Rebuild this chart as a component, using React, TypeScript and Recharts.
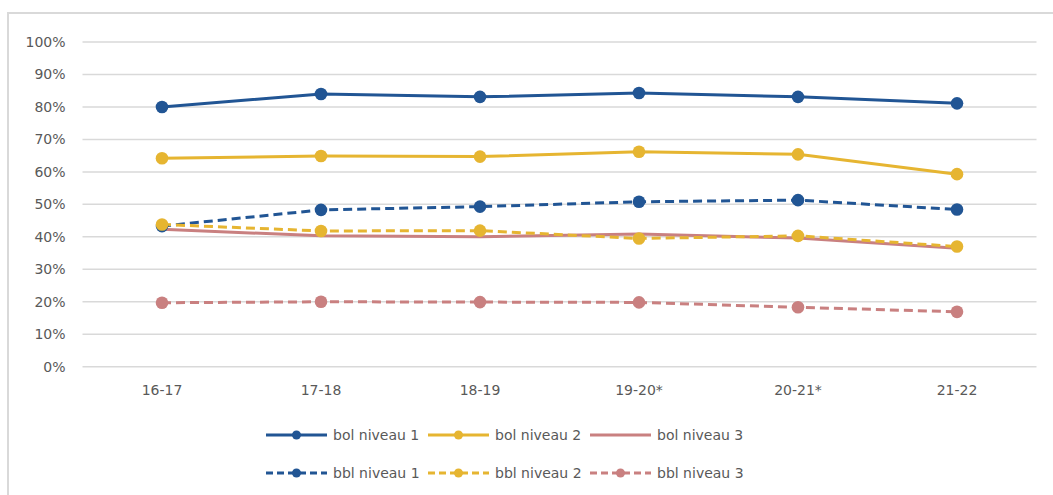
import { LineChart, Line, XAxis, YAxis, CartesianGrid } from "recharts";

// school years
const years = ["16-17", "17-18", "18-19", "19-20*", "20-21*", "21-22"];

// percentages
const bolNiveau1 = [80.0, 84.0, 83.1, 84.3, 83.1, 81.1];
const bolNiveau2 = [64.2, 64.9, 64.7, 66.2, 65.4, 59.3];
const bolNiveau3 = [42.3, 40.3, 40.0, 40.9, 39.6, 36.5];
const bblNiveau1 = [43.3, 48.3, 49.3, 50.8, 51.3, 48.4];
const bblNiveau2 = [43.8, 41.8, 41.9, 39.5, 40.3, 37.0];
const bblNiveau3 = [19.7, 20.0, 19.9, 19.8, 18.3, 16.9];

const yTicks = [0, 10, 20, 30, 40, 50, 60, 70, 80, 90, 100];

const BLUE = "#215594";
const GOLD = "#e6b531";
const ROSE = "#c98080";
const FONT = "'DejaVu Sans', sans-serif";

const series = [
  { key: "bol1", name: "bol niveau 1", color: BLUE, dashed: false, dot: true },
  { key: "bol2", name: "bol niveau 2", color: GOLD, dashed: false, dot: true },
  { key: "bol3", name: "bol niveau 3", color: ROSE, dashed: false, dot: false },
  { key: "bbl1", name: "bbl niveau 1", color: BLUE, dashed: true, dot: true },
  { key: "bbl2", name: "bbl niveau 2", color: GOLD, dashed: true, dot: true },
  { key: "bbl3", name: "bbl niveau 3", color: ROSE, dashed: true, dot: true },
];

const rows = years.map((y, i) => ({
  year: y,
  bol1: bolNiveau1[i],
  bol2: bolNiveau2[i],
  bol3: bolNiveau3[i],
  bbl1: bblNiveau1[i],
  bbl2: bblNiveau2[i],
  bbl3: bblNiveau3[i],
}));

function LegendItem({ s, left, top }: { s: (typeof series)[number]; left: number; top: number }) {
  return (
    <div style={{ position: "absolute", left, top, height: 16, display: "flex", alignItems: "center" }}>
      <svg width={61} height={16}>
        <line
          x1={0}
          x2={61}
          y1={8}
          y2={8}
          stroke={s.color}
          strokeWidth={3}
          strokeDasharray={s.dashed ? "7 4" : undefined}
        />
        {s.dot && <circle cx={30.5} cy={8} r={4.5} fill={s.color} />}
      </svg>
      <span style={{ marginLeft: 6, fontFamily: FONT, fontSize: 14, color: "#595959", whiteSpace: "nowrap" }}>
        {s.name}
      </span>
    </div>
  );
}

export default function App() {
  const tickStyle = { fill: "#595959", fontSize: 14, fontFamily: FONT };
  return (
    <div style={{ position: "absolute", left: 0, top: 0, width: 1053, height: 495, overflow: "hidden", background: "#fff" }}>
      <div
        style={{
          position: "absolute",
          left: 7,
          top: 12,
          width: 1100,
          height: 520,
          borderTop: "2px solid #d9d9d9",
          borderLeft: "2px solid #d9d9d9",
        }}
      />
      <div style={{ position: "absolute", left: 0, top: 0 }}>
        <LineChart width={1053} height={495} data={rows} margin={{ top: 42, right: 16.5, left: 0, bottom: 98.3 }}>
          <CartesianGrid vertical={false} stroke="#d9d9d9" strokeWidth={1.5} />
          <XAxis
            dataKey="year"
            height={30}
            axisLine={false}
            tickLine={false}
            tickMargin={12}
            padding={{ left: 79.5, right: 79.5 }}
            tick={tickStyle}
            interval={0}
          />
          <YAxis
            width={82.5}
            domain={[0, 100]}
            ticks={yTicks}
            axisLine={false}
            tickLine={false}
            tickMargin={11}
            tick={tickStyle}
            tickFormatter={(v: number) => `${v}%`}
          />
          {series.map((s) => (
            <Line
              key={s.key}
              type="linear"
              dataKey={s.key}
              name={s.name}
              stroke={s.color}
              strokeWidth={3}
              strokeDasharray={s.dashed ? "9 5" : undefined}
              dot={s.dot ? { r: 6.3, fill: s.color, stroke: s.color, strokeWidth: 0 } : false}
              activeDot={false}
              isAnimationActive={false}
            />
          ))}
        </LineChart>
      </div>
      {series.map((s, i) => (
        <LegendItem key={s.key} s={s} left={266 + (i % 3) * 162} top={i < 3 ? 427 : 465} />
      ))}
    </div>
  );
}
